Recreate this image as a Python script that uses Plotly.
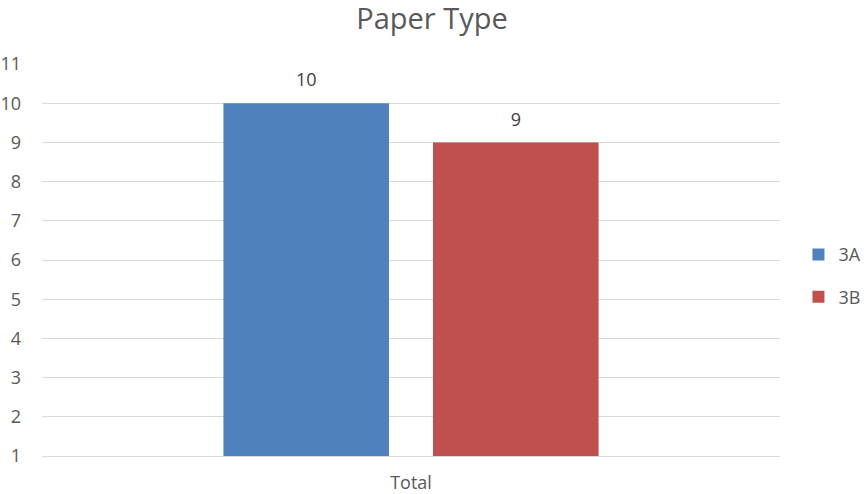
import plotly.graph_objects as go

categories = ["Total"]
series_names = ["3A", "3B"]
values_3a = [10]
values_3b = [9]
colors = ["#4F81BD", "#C0504D"]
y_ticks = list(range(1, 12))

FONT = "Open Sans, Segoe UI, sans-serif"
fig = go.Figure()
for name, vals, col in zip(series_names, [values_3a, values_3b], colors):
    fig.add_trace(go.Bar(
        x=categories, y=[v - 1 for v in vals], base=1, name=name,
        marker=dict(color=col, line=dict(width=0)),
        legendgroup=name, offsetgroup=name,
    ))
for name, vals in zip(series_names, [values_3a, values_3b]):
    fig.add_trace(go.Scatter(
        x=categories, y=vals, mode="markers+text", name=name,
        marker=dict(size=18, opacity=0), text=[str(v) for v in vals],
        textposition="top center", textfont=dict(size=18, color="#404040"),
        showlegend=False, hoverinfo="skip", cliponaxis=False,
        legendgroup=name, offsetgroup=name,
    ))

fig.update_layout(
    width=864, height=494,
    font=dict(family=FONT, color="#595959", size=18),
    title=dict(text="Paper Type", x=0.5, xanchor="center", y=1 - 19 / 494, yanchor="middle",
               font=dict(size=29, color="#595959"), automargin=False),
    margin=dict(l=42, r=84, t=64, b=38, autoexpand=False),
    plot_bgcolor="white", paper_bgcolor="white",
    barmode="group", bargap=0.432, bargroupgap=0.21,
    scattermode="group", scattergap=0.432,
    legend=dict(x=1.025, xanchor="left", y=0.46, yanchor="middle",
                font=dict(size=18, color="#595959"), tracegroupgap=16,
                itemwidth=30),
    showlegend=True,
)
fig.update_yaxes(range=[1, 11], tickvals=y_ticks, showgrid=True, gridcolor="#D9D9D9",
                 zeroline=False, ticklabelstandoff=20, tickfont=dict(size=18),
                 automargin=False)
fig.update_xaxes(showline=True, linecolor="#D9D9D9", tickfont=dict(size=18),
                 ticklabelstandoff=10, automargin=False)

fig.write_html("out.html", config={"displayModeBar": False},
               post_script="document.body.style.margin='0';")
